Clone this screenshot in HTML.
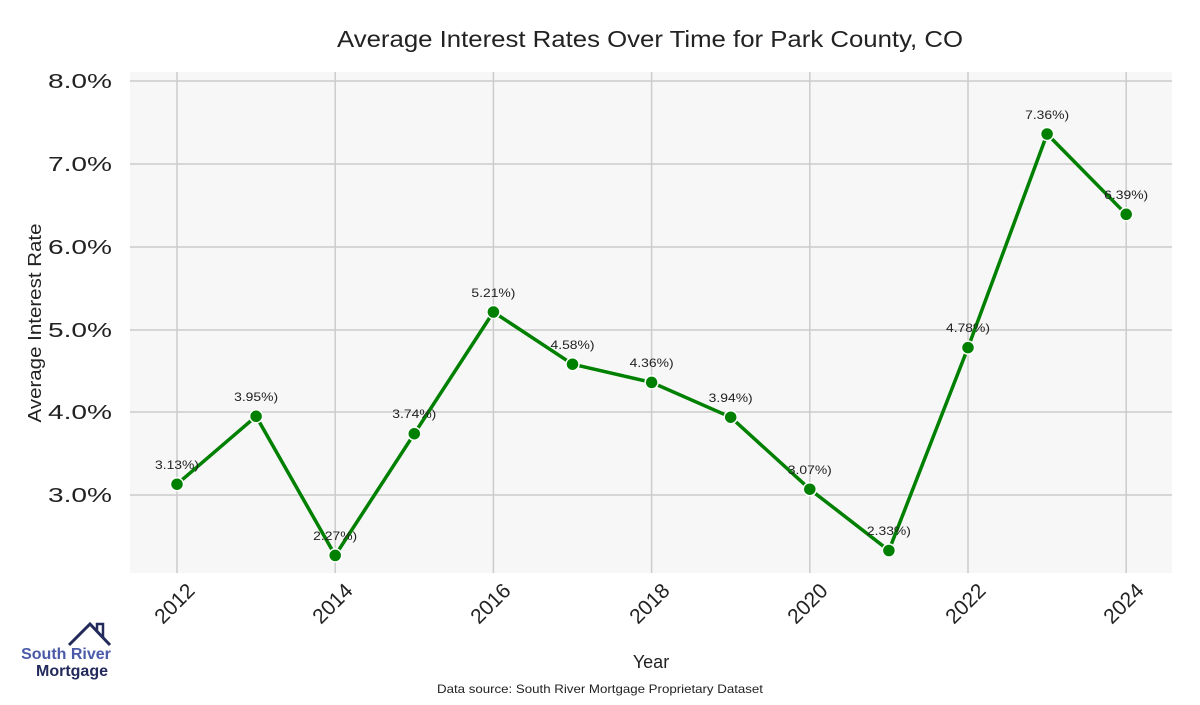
<!DOCTYPE html>
<html><head><meta charset="utf-8"><style>
body{margin:0;background:#fff;width:1200px;height:700px;overflow:hidden;font-family:"Liberation Sans",sans-serif}
</style></head><body>
<svg width="1200" height="700" xmlns="http://www.w3.org/2000/svg" font-family="Liberation Sans, sans-serif">
<rect x="130" y="72" width="1042" height="501" fill="#f7f7f7"/>
<g stroke="#cccccc" stroke-width="1.5">
<line x1="130" x2="1172" y1="81" y2="81"/><line x1="130" x2="1172" y1="164" y2="164"/><line x1="130" x2="1172" y1="247" y2="247"/><line x1="130" x2="1172" y1="330" y2="330"/><line x1="130" x2="1172" y1="412" y2="412"/><line x1="130" x2="1172" y1="495" y2="495"/>
<line y1="72" y2="573" x1="177" x2="177"/><line y1="72" y2="573" x1="335.2" x2="335.2"/><line y1="72" y2="573" x1="493.4" x2="493.4"/><line y1="72" y2="573" x1="651.6" x2="651.6"/><line y1="72" y2="573" x1="809.8" x2="809.8"/><line y1="72" y2="573" x1="968" x2="968"/><line y1="72" y2="573" x1="1126.2" x2="1126.2"/>
</g>
<text x="337" y="47" font-size="23" fill="#222" textLength="626" lengthAdjust="spacingAndGlyphs">Average Interest Rates Over Time for Park County, CO</text>
<g font-size="20" fill="#222">
<text x="48" y="88" textLength="64" lengthAdjust="spacingAndGlyphs">8.0%</text><text x="48" y="171" textLength="64" lengthAdjust="spacingAndGlyphs">7.0%</text><text x="48" y="254" textLength="64" lengthAdjust="spacingAndGlyphs">6.0%</text><text x="48" y="337" textLength="64" lengthAdjust="spacingAndGlyphs">5.0%</text><text x="48" y="419" textLength="64" lengthAdjust="spacingAndGlyphs">4.0%</text><text x="48" y="502" textLength="64" lengthAdjust="spacingAndGlyphs">3.0%</text>
</g>
<text transform="translate(41,323) rotate(-90)" text-anchor="middle" font-size="18" fill="#222" textLength="199" lengthAdjust="spacingAndGlyphs">Average Interest Rate</text>
<g font-size="21" fill="#222" text-anchor="end">
<text transform="translate(196,592) rotate(-45)">2012</text>
<text transform="translate(354,592) rotate(-45)">2014</text>
<text transform="translate(512,592) rotate(-45)">2016</text>
<text transform="translate(671,592) rotate(-45)">2018</text>
<text transform="translate(829,592) rotate(-45)">2020</text>
<text transform="translate(987,592) rotate(-45)">2022</text>
<text transform="translate(1145,592) rotate(-45)">2024</text>
</g>
<text x="651" y="668" text-anchor="middle" font-size="18" fill="#222">Year</text>
<text x="437" y="693" font-size="12" fill="#222" textLength="326" lengthAdjust="spacingAndGlyphs">Data source: South River Mortgage Proprietary Dataset</text>
<polyline fill="none" stroke="#008000" stroke-width="3.5" stroke-linejoin="round" points="177,484.2 256.1,416.3 335.2,555.4 414.3,433.7 493.4,312 572.5,364.2 651.6,382.4 730.7,417.2 809.8,489.2 888.9,550.5 968,347.6 1047.1,134 1126.2,214.3"/>
<g fill="#008000" stroke="#fff" stroke-width="1.5">
<circle cx="177" cy="484.2" r="6.5"/><circle cx="256.1" cy="416.3" r="6.5"/><circle cx="335.2" cy="555.4" r="6.5"/><circle cx="414.3" cy="433.7" r="6.5"/><circle cx="493.4" cy="312" r="6.5"/><circle cx="572.5" cy="364.2" r="6.5"/><circle cx="651.6" cy="382.4" r="6.5"/><circle cx="730.7" cy="417.2" r="6.5"/><circle cx="809.8" cy="489.2" r="6.5"/><circle cx="888.9" cy="550.5" r="6.5"/><circle cx="968" cy="347.6" r="6.5"/><circle cx="1047.1" cy="134" r="6.5"/><circle cx="1126.2" cy="214.3" r="6.5"/>
</g>
<g font-size="12" fill="#222" text-anchor="middle">
<text x="177" y="469" textLength="44" lengthAdjust="spacingAndGlyphs">3.13%)</text><text x="256.1" y="401" textLength="44" lengthAdjust="spacingAndGlyphs">3.95%)</text><text x="335.2" y="540" textLength="44" lengthAdjust="spacingAndGlyphs">2.27%)</text><text x="414.3" y="418" textLength="44" lengthAdjust="spacingAndGlyphs">3.74%)</text><text x="493.4" y="297" textLength="44" lengthAdjust="spacingAndGlyphs">5.21%)</text><text x="572.5" y="349" textLength="44" lengthAdjust="spacingAndGlyphs">4.58%)</text><text x="651.6" y="367" textLength="44" lengthAdjust="spacingAndGlyphs">4.36%)</text><text x="730.7" y="402" textLength="44" lengthAdjust="spacingAndGlyphs">3.94%)</text><text x="809.8" y="474" textLength="44" lengthAdjust="spacingAndGlyphs">3.07%)</text><text x="888.9" y="535" textLength="44" lengthAdjust="spacingAndGlyphs">2.33%)</text><text x="968" y="332" textLength="44" lengthAdjust="spacingAndGlyphs">4.78%)</text><text x="1047.1" y="119" textLength="44" lengthAdjust="spacingAndGlyphs">7.36%)</text><text x="1126.2" y="199" textLength="44" lengthAdjust="spacingAndGlyphs">6.39%)</text>
</g>
<polyline fill="none" stroke="#232a5c" stroke-width="3" points="69,645 90,624 110,645"/>
<polyline fill="none" stroke="#232a5c" stroke-width="2.5" points="97,631 97,624 103,624 103,638"/>
<text x="66" y="659" text-anchor="middle" font-size="16" font-weight="bold" fill="#4a5aa8">South River</text>
<text x="72" y="676" text-anchor="middle" font-size="16" font-weight="bold" fill="#232a5c">Mortgage</text>
</svg>
</body></html>
